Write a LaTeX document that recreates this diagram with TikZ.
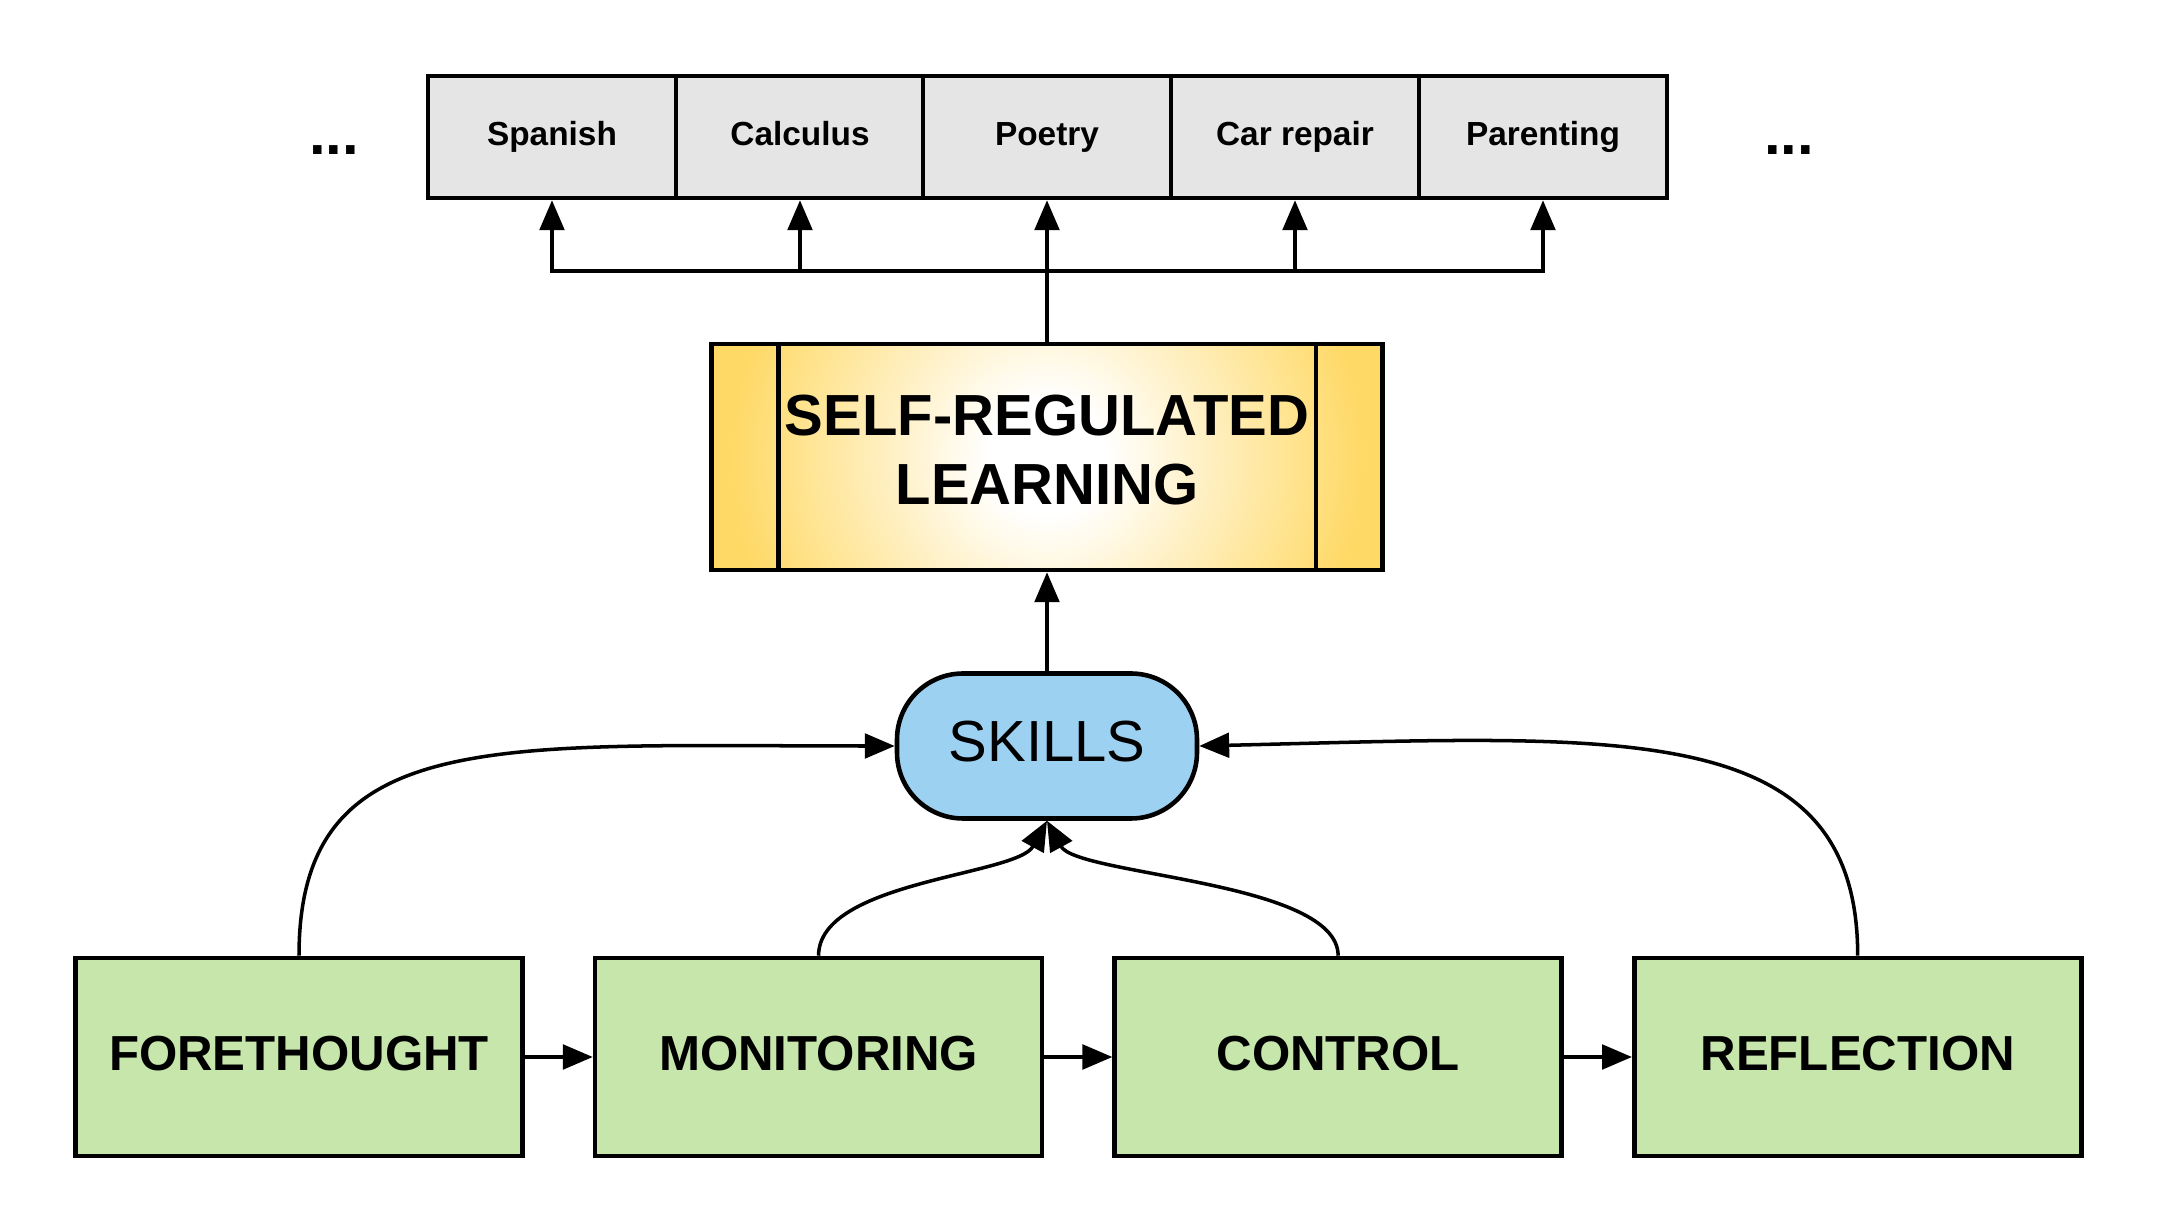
\documentclass[tikz,border=0pt]{standalone}
\usepackage{fontspec}
\setmainfont{Liberation Sans}
\usetikzlibrary{positioning,arrows.meta}
\definecolor{topgray}{HTML}{E5E5E5}
\definecolor{srlgold}{HTML}{FFD966}
\definecolor{skillblue}{HTML}{9DD1F1}
\definecolor{phasegreen}{HTML}{C6E6AC}
\pgfdeclareradialshading{srlglow}{\pgfpointorigin}{color(0bp)=(white); color(4bp)=(white); color(22bp)=(srlgold); color(25bp)=(srlgold); color(50bp)=(srlgold)}
\def\link{\draw[linkarrow]}

\begin{document}
\begin{tikzpicture}[
    linkarrow/.style={line width=1pt,-{Triangle[length=8.5pt,width=7pt]}},
    subjectbox/.style={draw,line width=1.3pt,fill=topgray,minimum width=2.48cm,minimum height=1.22cm,
        text height=7pt,text depth=2.2pt,font=\fontsize{9.5}{11}\selectfont\bfseries},
    srlbox/.style={draw,line width=1.3pt,minimum width=6.71cm,minimum height=2.26cm,align=center,text depth=4pt,
        font=\fontsize{16.5}{19.6}\selectfont\bfseries,
        path picture={\shade[shading=srlglow] (path picture bounding box.center) circle (3.6cm);}},
    skillbox/.style={draw,line width=1.3pt,fill=skillblue,rounded corners=0.66cm,minimum width=3cm,minimum height=1.45cm,
        text depth=2.5pt,font=\fontsize{16.5}{19}\selectfont},
    phasebox/.style={draw,line width=1.3pt,fill=phasegreen,minimum width=4.47cm,minimum height=1.98cm,
        text depth=2pt,font=\fontsize{14}{16}\selectfont\bfseries},
    moretext/.style={font=\fontsize{17}{20}\selectfont\bfseries}
]
    \useasboundingbox (0,0) rectangle (21.58,12.32);

    % subjects
    \node[subjectbox] (spanish)   at (5.52,10.95)  {Spanish};
    \node[subjectbox] (calculus)  at (8.00,10.95)  {Calculus};
    \node[subjectbox] (poetry)    at (10.47,10.95) {Poetry};
    \node[subjectbox] (carrepair) at (12.95,10.95) {Car repair};
    \node[subjectbox] (parenting) at (15.43,10.95) {Parenting};
    \node[moretext] (moreleft)  at (3.34,10.82)  {...};
    \node[moretext] (moreright) at (17.89,10.82) {...};

    % srl and skills
    \node[srlbox] (srl) at (10.47,7.75) {SELF-REGULATED\\LEARNING};
    \draw[line width=1.3pt] ([xshift=0.69cm]srl.north west) -- ([xshift=0.69cm]srl.south west);
    \draw[line width=1.3pt] ([xshift=-0.69cm]srl.north east) -- ([xshift=-0.69cm]srl.south east);
    \node[skillbox] (skills) at (10.47,4.86) {SKILLS};

    % phases
    \node[phasebox] (fore) at (2.99,1.75) {FORETHOUGHT};
    \node[phasebox,right=0.68cm of fore] (monitor) {MONITORING};
    \node[phasebox,right=0.68cm of monitor] (control) {CONTROL};
    \node[phasebox,right=0.68cm of control] (reflect) {REFLECTION};

    % connectors
    \coordinate (bus) at (10.47,9.61);
    \link (srl.north) -- (poetry.south);
    \link (bus) -| (spanish.south);
    \link (bus) -| (calculus.south);
    \link (bus) -| (carrepair.south);
    \link (bus) -| (parenting.south);
    \link (skills) -- (srl);
    \link (fore) -- (monitor);
    \link (monitor) -- (control);
    \link (control) -- (reflect);
    \link (fore.north) .. controls +(0,2.3) and +(-4,0) .. (skills.west);
    \link (reflect.north) .. controls +(0,2.4) and +(4.2,0.1) .. (skills.east);
    \link (monitor.north) .. controls +(0,0.75) and +(-0.3,-0.55) .. (skills.south);
    \link (control.north) .. controls +(0,0.75) and +(0.3,-0.55) .. (skills.south);
\end{tikzpicture}
\end{document}
